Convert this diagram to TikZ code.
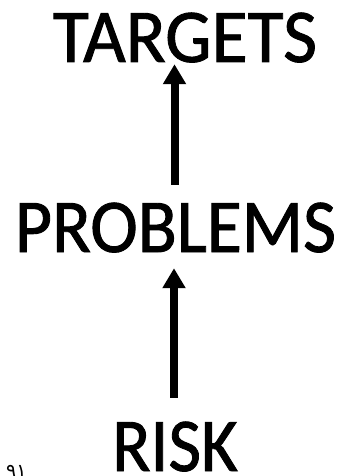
\documentclass[tikz,border=0pt]{standalone}
\usepackage{fontspec}
\setmainfont[FakeBold=1.2]{Carlito}
\newfontfamily\arabicfont[Script=Arabic]{DejaVu Sans}
\usetikzlibrary{arrows.meta}
\begin{document}
\begin{tikzpicture}[x=1pt,y=-1pt,
  lbl/.style={font=\fontsize{76}{80}\selectfont, inner sep=0pt, anchor=base, text height=49pt, text depth=0pt},
  arr/.style={line width=8pt, -{Triangle[width=22pt,length=20pt]}},
  pagenum/.style={font=\arabicfont\fontsize{19}{21}\selectfont, inner sep=0pt, anchor=base west}]
\clip (0,0) rectangle (349,476);
\fill[white] (0,0) rectangle (349,476);
\useasboundingbox (0,0) rectangle (349,476);
\node[lbl] (t) at (185,62) {\scalebox{0.97}[1]{TARGETS}};
\node[lbl] (p) at (175.5,252) {\scalebox{0.943}[1]{PROBLEMS}};
\node[lbl] (r) at (175,471) {\scalebox{0.933}[1]{RISK}};
\draw[arr] ([xshift=-1pt,yshift=18pt]p.north) -- ([xshift=-1pt,yshift=-2pt]p.north |- t.south);
\draw[arr] ([xshift=-1pt,yshift=24pt]r.north) -- ([xshift=-1pt,yshift=-16pt]r.north |- p.south);
\node[pagenum] (n) at (6,477) {۹۱};
\end{tikzpicture}
\end{document}
